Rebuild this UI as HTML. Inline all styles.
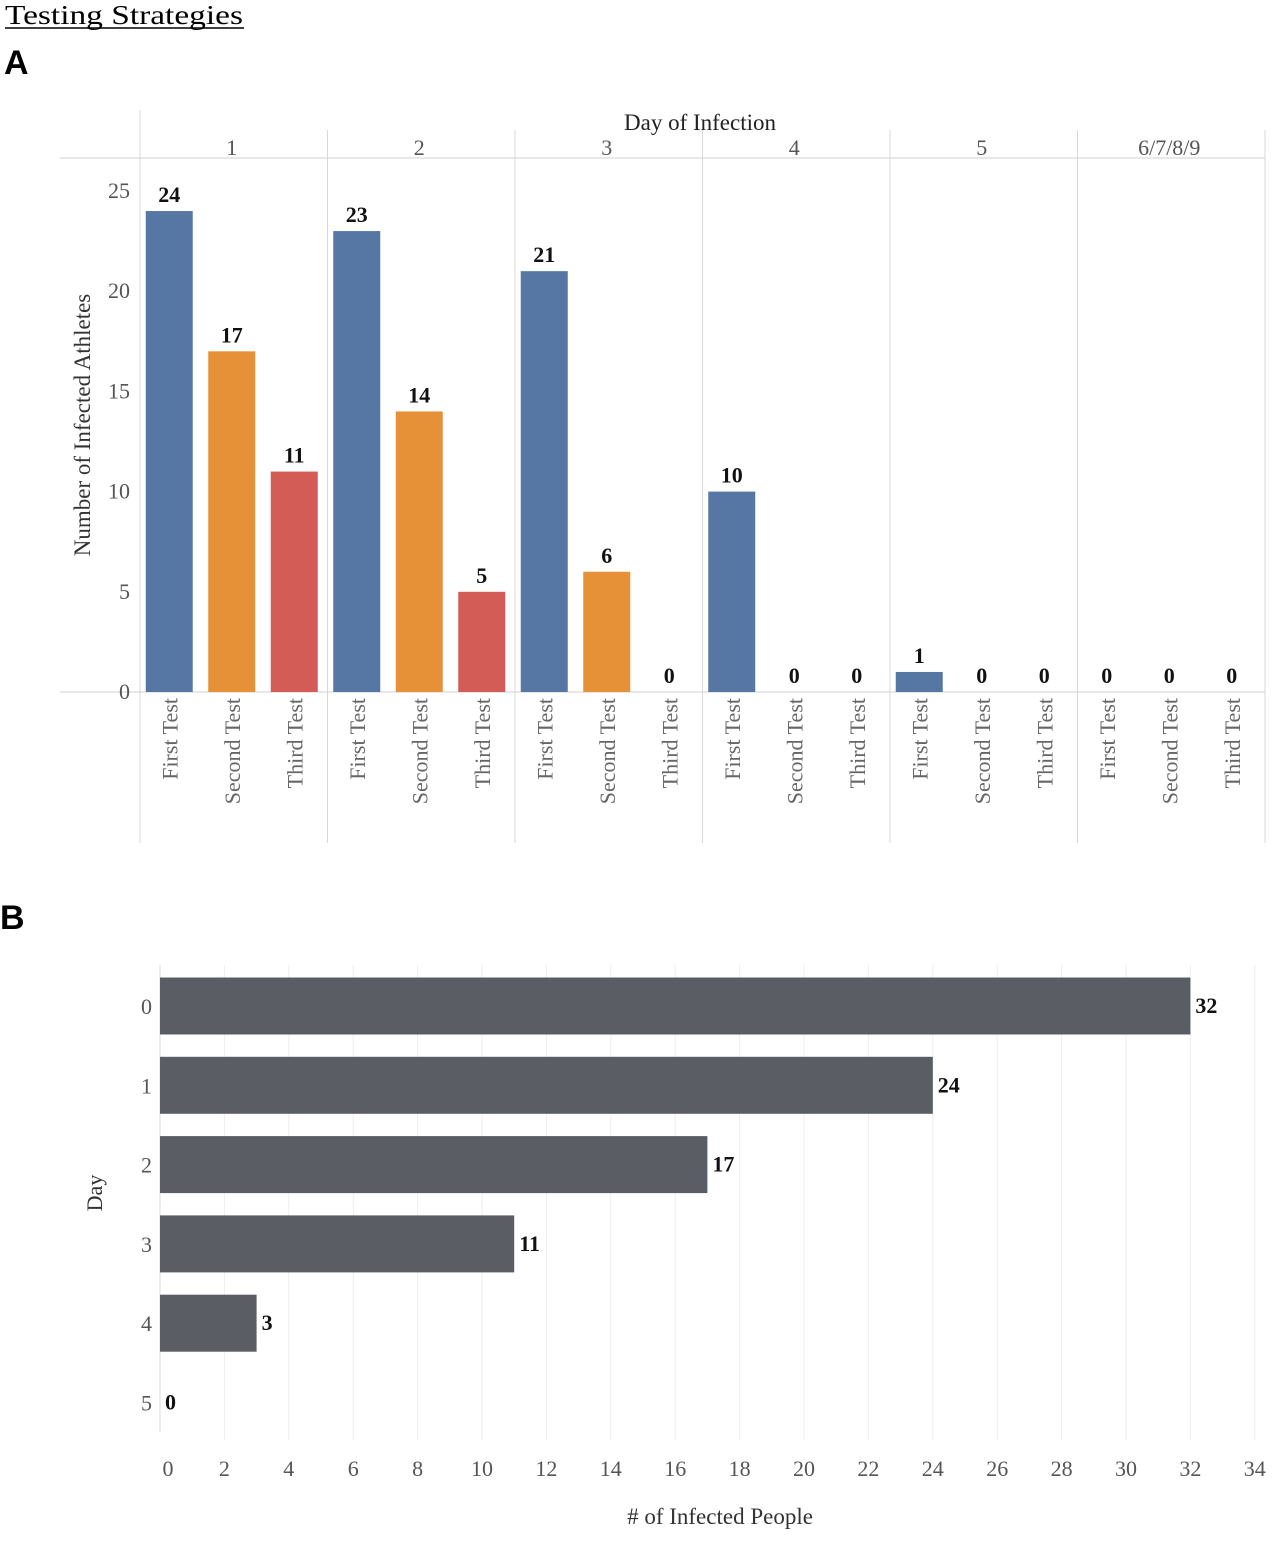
<!DOCTYPE html>
<html><head><meta charset="utf-8"><style>
body{margin:0;background:#fff;width:1280px;height:1546px;overflow:hidden}
svg{display:block}
text{font-family:"Liberation Serif",serif}
</style></head><body>
<svg id="s" width="1280" height="1546">
<text x="5" y="24" font-size="27" fill="#000" textLength="238" lengthAdjust="spacingAndGlyphs">Testing Strategies</text>
<line x1="5" y1="28" x2="244" y2="28" stroke="#000" stroke-width="1.5"/>
<text x="4" y="74" font-size="34" font-weight="bold" style="font-family:'Liberation Sans',sans-serif">A</text>
<text x="0" y="929" font-size="34" font-weight="bold" style="font-family:'Liberation Sans',sans-serif">B</text>
<g id="ga"></g><g id="gb"></g>
</svg>
<script>
const NS='http://www.w3.org/2000/svg';
function mk(p,t,a,txt){const e=document.createElementNS(NS,t);for(const k in a)e.setAttribute(k,a[k]);if(txt!==undefined)e.textContent=txt;p.appendChild(e);return e;}
// Chart A data
const days=['1','2','3','4','5','6/7/8/9'];
const tests=['First Test','Second Test','Third Test'];
const firstVals=[24,23,21,10,1,0];
const secondVals=[17,14,6,0,0,0];
const thirdVals=[11,5,0,0,0,0];
const yTicksA=[0,5,10,15,20,25];
// Chart B data
const dayCats=['0','1','2','3','4','5'];
const infected=[32,24,17,11,3,0];
const xTicksB=[0,2,4,6,8,10,12,14,16,18,20,22,24,26,28,30,32,34];

const ga=document.getElementById('ga');
const colors=['#5677a4','#e69138','#d35c56'];
const series=[firstVals,secondVals,thirdVals];
const px0=140,pw=187.5,y0=692,yu=20.04;
const yA=v=>y0-v*yu;
mk(ga,'line',{x1:60,y1:158,x2:1265,y2:158,stroke:'#d0d0d0'});
mk(ga,'line',{x1:60,y1:y0,x2:1265,y2:y0,stroke:'#d0d0d0'});
for(let i=0;i<=days.length;i++){const x=px0+i*pw;mk(ga,'line',{x1:x,y1:i==0?110:130,x2:x,y2:843,stroke:'#d8d8d8'});}
let t=mk(ga,'text',{x:700,y:130,'font-size':23,'text-anchor':'middle',fill:'#222'},'Day of Infection');

days.forEach((d,i)=>{const e=mk(ga,'text',{x:px0+i*pw+pw/2-2,y:155,'font-size':22,'text-anchor':'middle',fill:'#555'},d);
});
yTicksA.forEach(v=>{const e=mk(ga,'text',{x:130,y:yA(v)+7,'font-size':22,'text-anchor':'end',fill:'#555'},v);
});
t=mk(ga,'text',{x:0,y:0,'font-size':23,'text-anchor':'middle',fill:'#333',transform:'translate(90,425) rotate(-90)'},'Number of Infected Athletes');

days.forEach((d,i)=>{tests.forEach((tn,j)=>{
 const cx=px0+i*pw+pw/6*(2*j+1)-2;const v=series[j][i];
 if(v>0){const r=mk(ga,'rect',{x:cx-23.5,y:yA(v),width:47,height:y0-yA(v),fill:colors[j]});
 }
 const l=mk(ga,'text',{x:cx,y:yA(v)-9,'font-size':22,'font-weight':'bold','text-anchor':'middle',fill:'#111'},v);
 
 const c=mk(ga,'text',{x:0,y:0,'font-size':22,'text-anchor':'end',fill:'#666',transform:`translate(${cx+8},698) rotate(-90)`},tn);
 
});});

const gb=document.getElementById('gb');
const bx0=160,bu=32.2,ry0=1006,rp=79.3;
const xB=v=>bx0+v*bu;
xTicksB.forEach(v=>{if(v>0)mk(gb,'line',{x1:xB(v),y1:965,x2:xB(v),y2:1440,stroke:'#eeeeee'});
 const e=mk(gb,'text',{x:xB(v)+(v==0?8:0),y:1476,'font-size':22,'text-anchor':'middle',fill:'#555'},v);
 });
mk(gb,'line',{x1:bx0,y1:965,x2:bx0,y2:1432,stroke:'#d8d8e4'});
dayCats.forEach((d,i)=>{const cy=ry0+i*rp;const v=infected[i];
 if(v>0){const r=mk(gb,'rect',{x:bx0,y:cy-28.5,width:xB(v)-bx0,height:57,fill:'#5a5d64'});
 }
 const l=mk(gb,'text',{x:xB(v)+5,y:cy+7,'font-size':22,'font-weight':'bold','text-anchor':'start',fill:'#111'},v);
 
 const c=mk(gb,'text',{x:152,y:cy+8,'font-size':22,'text-anchor':'end',fill:'#555'},d);
 });
t=mk(gb,'text',{x:0,y:0,'font-size':22,'text-anchor':'middle',fill:'#333',transform:'translate(102,1193) rotate(-90)'},'Day');

t=mk(gb,'text',{x:720,y:1524,'font-size':23,'text-anchor':'middle',fill:'#333'},'# of Infected People');

</script>
</body></html>
